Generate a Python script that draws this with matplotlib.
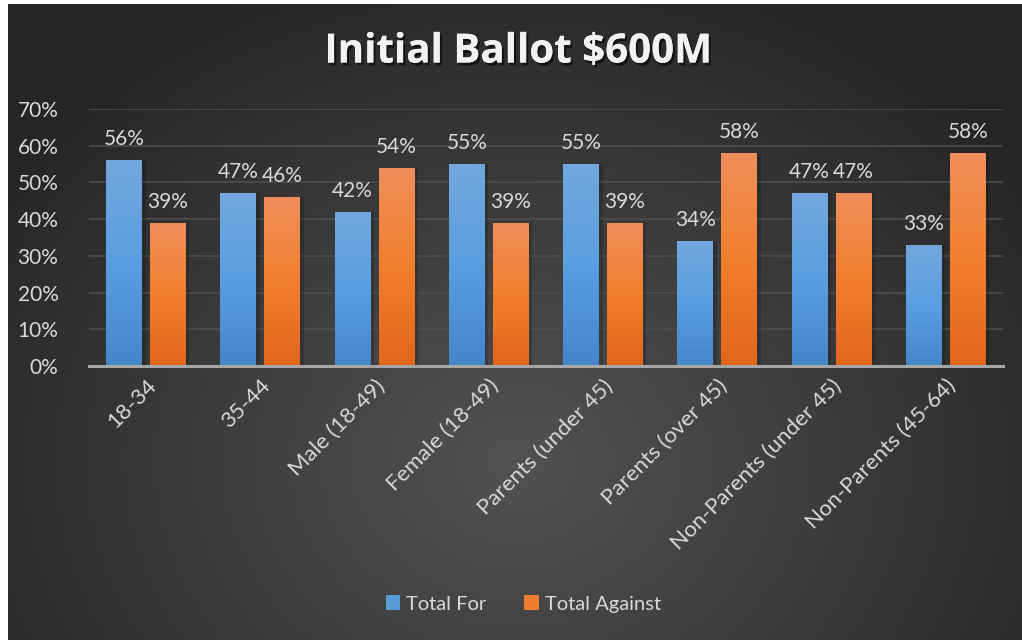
import numpy as np
import matplotlib
matplotlib.use("Agg")
import matplotlib.pyplot as plt
from matplotlib.colors import LinearSegmentedColormap
import matplotlib.patheffects as pe

categories = ["18-34", "35-44", "Male (18-49)", "Female (18-49)", "Parents (under 45)",
              "Parents (over 45)", "Non-Parents (under 45)", "Non-Parents (45-64)"]
total_for = [0.56, 0.47, 0.42, 0.55, 0.55, 0.34, 0.47, 0.33]
total_against = [0.39, 0.46, 0.54, 0.39, 0.39, 0.58, 0.47, 0.58]
series_names = ["Total For", "Total Against"]
yticks = [0, 0.1, 0.2, 0.3, 0.4, 0.5, 0.6, 0.7]
title = "Initial Ballot $600M"

FONT = "Lato"
TXT = "#d9d9d9"

fig = plt.figure(figsize=(10.22, 6.4), dpi=100, facecolor="white")

# radial gradient background
bg = fig.add_axes([8/1022, 0, 1 - 8/1022, 1 - 4/640])
bg.set_axis_off()
H, W = 300, 480
yy, xx = np.mgrid[0:H, 0:W]
cx, cy = W * 0.5, H * 0.72
r = np.sqrt(((xx - cx) / W) ** 2 + ((yy - cy) / H * 0.75) ** 2)
r = np.clip(r / 0.62, 0, 1)
inner = np.array([0x52, 0x52, 0x52]) / 255
outer = np.array([0x25, 0x25, 0x25]) / 255
img = inner[None, None, :] * (1 - r[..., None]) + outer[None, None, :] * r[..., None]
bg.imshow(img, aspect="auto", extent=[0, 1, 0, 1], origin="upper")
bg.set_xlim(0, 1); bg.set_ylim(0, 1)

ax = fig.add_axes([89/1022, 1 - 366/640, (1003 - 89)/1022, (366 - 109)/640])
ax.patch.set_alpha(0)
x = np.arange(len(categories))
w = 0.315
off = 0.192

blue_cmap = LinearSegmentedColormap.from_list("b", ["#4586c9", "#5b9ee0", "#72a8dc"])
orange_cmap = LinearSegmentedColormap.from_list("o", ["#e2661a", "#f27f2e", "#ef8e5c"])

def gbars(xpos, vals, cmap, label, face):
    bars = ax.bar(xpos, vals, w, color=face, label=label, zorder=3)
    grad = np.linspace(0, 1, 256).reshape(-1, 1)
    for b in bars:
        x0, y0 = b.get_x(), b.get_y()
        bw, bh = b.get_width(), b.get_height()
        # soft shadow
        ax.bar(x0 + bw / 2 + 0.03, bh, bw, bottom=y0, color="black", alpha=0.18, zorder=2.5)
        im = ax.imshow(grad, cmap=cmap, aspect="auto", origin="lower",
                       extent=[x0, x0 + bw, y0, y0 + bh], zorder=3.1)
        im.set_clip_path(b)
        ax.annotate(f"{b.get_height()*100:.0f}%", (x0 + bw / 2, y0 + bh),
                    xytext=(0, 8), textcoords="offset points", ha="center", va="bottom",
                    color=TXT, fontsize=15, family=FONT, zorder=5)
    return bars

gbars(x - off, total_for, blue_cmap, series_names[0], "#5b9bd5")
gbars(x + off, total_against, orange_cmap, series_names[1], "#ed7d31")

ax.set_xlim(-0.5, len(categories) - 0.5)
ax.set_ylim(0, 0.7)
ax.set_yticks(yticks)
ax.set_yticklabels([f"{v*100:.0f}%" for v in yticks], color=TXT, fontsize=15, family=FONT)
ax.yaxis.grid(True, color="#4d4d4d", linewidth=1.2, zorder=0)
ax.set_axisbelow(True)
ax.tick_params(axis="y", length=0, pad=22)
ax.tick_params(axis="x", length=0, pad=7)
ax.set_xticks(x)
ax.set_xticklabels(categories, rotation=45, ha="right", va="top", rotation_mode="anchor",
                   color=TXT, fontsize=16, family=FONT)
for t in ax.get_xticklabels():
    t.set_transform(t.get_transform() + matplotlib.transforms.ScaledTranslation(0.0, 0, fig.dpi_scale_trans))
for s in ["top", "right", "left"]:
    ax.spines[s].set_visible(False)
ax.spines["bottom"].set_color("#a6a6a6")
ax.spines["bottom"].set_linewidth(2.2)
ax.spines["bottom"].set_zorder(4)

fig.text(518/1022, 1 - 52/640, title, ha="center", va="center", color="#f2f2f2",
         fontsize=29, fontweight="bold", family="Open Sans",
         path_effects=[pe.withSimplePatchShadow(offset=(1.5, -2), shadow_rgbFace="black", alpha=0.6),
                       pe.Normal()])

leg = fig.legend(loc="center", bbox_to_anchor=(0.512, 1 - 604/640), ncol=2, frameon=False,
                 handlelength=0.7, handleheight=0.7, handletextpad=0.3, columnspacing=1.9,
                 prop={"family": FONT, "size": 14.5})
for t in leg.get_texts():
    t.set_color(TXT)

fig.savefig("out.png", dpi=100, facecolor=fig.get_facecolor())
